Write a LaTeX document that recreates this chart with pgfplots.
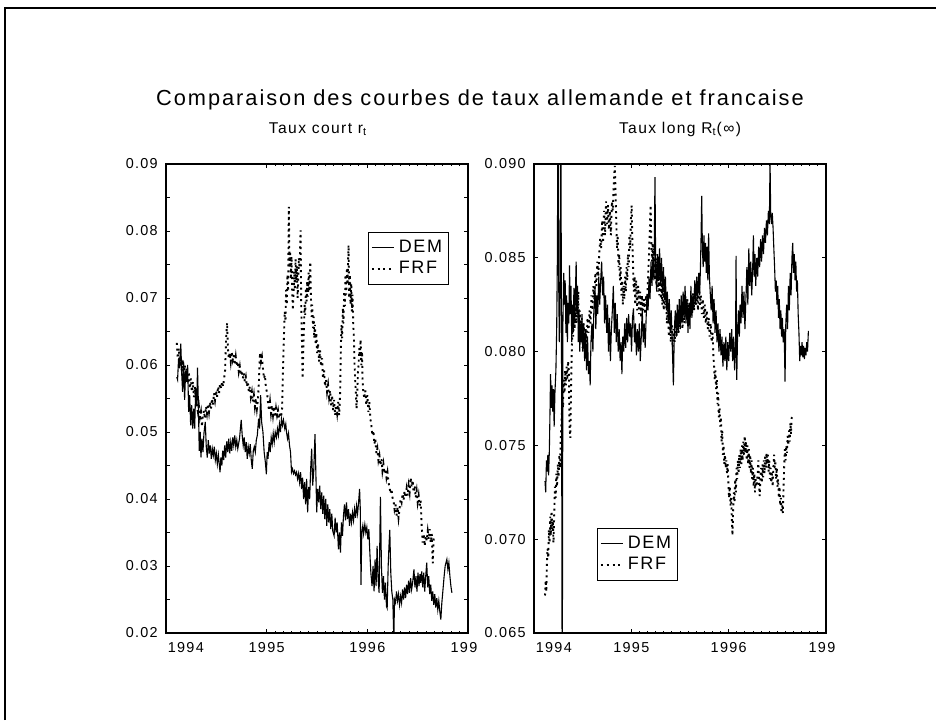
\documentclass[border=0pt]{standalone}
\usepackage{pgfplots}
\pgfplotsset{compat=1.18}
\usepackage{fontspec}
\setmainfont{Liberation Sans}[LetterSpace=9]

% weekly-ish samples of the short and long rates (years as decimals)
\pgfplotstableread{
x y
1994.107 0.0582
1994.115 0.0578
1994.125 0.0610
1994.135 0.0595
1994.147 0.0632
1994.155 0.0590
1994.165 0.0560
1994.175 0.0605
1994.185 0.0548
1994.195 0.0592
1994.205 0.0575
1994.215 0.0600
1994.225 0.0530
1994.235 0.0555
1994.245 0.0510
1994.255 0.0540
1994.265 0.0505
1994.275 0.0535
1994.285 0.0505
1994.295 0.0565
1994.305 0.0540
1994.313 0.0596
1994.322 0.0540
1994.330 0.0472
1994.340 0.0500
1994.347 0.0462
1994.357 0.0490
1994.367 0.0470
1994.377 0.0498
1994.390 0.0515
1994.400 0.0478
1994.410 0.0462
1994.420 0.0488
1994.430 0.0468
1994.440 0.0480
1994.450 0.0460
1994.460 0.0475
1994.470 0.0465
1994.480 0.0478
1994.490 0.0458
1994.500 0.0468
1994.510 0.0452
1994.520 0.0466
1994.537 0.0440
1994.545 0.0462
1994.555 0.0450
1994.563 0.0472
1994.573 0.0458
1994.583 0.0480
1994.593 0.0462
1994.603 0.0486
1994.613 0.0470
1994.623 0.0490
1994.633 0.0468
1994.643 0.0485
1994.653 0.0472
1994.663 0.0492
1994.673 0.0480
1994.683 0.0495
1994.693 0.0478
1994.703 0.0488
1994.713 0.0475
1994.730 0.0490
1994.747 0.0518
1994.757 0.0495
1994.767 0.0480
1994.777 0.0492
1994.787 0.0470
1994.797 0.0485
1994.807 0.0460
1994.817 0.0478
1994.827 0.0468
1994.837 0.0482
1994.847 0.0458
1994.857 0.0445
1994.867 0.0472
1994.877 0.0478
1994.887 0.0470
1994.897 0.0488
1994.907 0.0495
1994.920 0.0520
1994.930 0.0505
1994.940 0.0555
1994.950 0.0515
1994.963 0.0500
1994.975 0.0470
1994.987 0.0455
1994.997 0.0437
1995.005 0.0470
1995.013 0.0460
1995.025 0.0485
1995.035 0.0470
1995.045 0.0492
1995.055 0.0482
1995.065 0.0498
1995.075 0.0485
1995.085 0.0500
1995.097 0.0492
1995.107 0.0505
1995.117 0.0495
1995.127 0.0512
1995.137 0.0500
1995.147 0.0520
1995.157 0.0510
1995.167 0.0518
1995.180 0.0505
1995.190 0.0512
1995.197 0.0500
1995.207 0.0490
1995.217 0.0498
1995.227 0.0480
1995.237 0.0470
1995.247 0.0440
1995.257 0.0445
1995.267 0.0438
1995.277 0.0442
1995.287 0.0436
1995.297 0.0440
1995.307 0.0430
1995.317 0.0438
1995.327 0.0425
1995.337 0.0440
1995.347 0.0415
1995.357 0.0432
1995.367 0.0400
1995.377 0.0425
1995.387 0.0392
1995.397 0.0430
1995.407 0.0380
1995.417 0.0418
1995.427 0.0400
1995.437 0.0445
1995.447 0.0475
1995.457 0.0420
1995.467 0.0440
1995.480 0.0497
1995.490 0.0430
1995.497 0.0380
1995.507 0.0415
1995.517 0.0395
1995.527 0.0420
1995.537 0.0385
1995.547 0.0410
1995.557 0.0378
1995.567 0.0405
1995.577 0.0370
1995.587 0.0400
1995.597 0.0360
1995.607 0.0392
1995.617 0.0365
1995.627 0.0385
1995.637 0.0355
1995.647 0.0378
1995.657 0.0352
1995.670 0.0345
1995.680 0.0372
1995.690 0.0350
1995.700 0.0365
1995.713 0.0325
1995.723 0.0350
1995.733 0.0320
1995.743 0.0365
1995.753 0.0345
1995.763 0.0375
1995.773 0.0392
1995.783 0.0368
1995.793 0.0395
1995.803 0.0370
1995.813 0.0385
1995.823 0.0360
1995.833 0.0378
1995.843 0.0365
1995.853 0.0380
1995.863 0.0368
1995.873 0.0385
1995.883 0.0372
1995.893 0.0390
1995.903 0.0378
1995.913 0.0395
1995.923 0.0415
1995.930 0.0385
1995.937 0.0272
1995.945 0.0350
1995.955 0.0360
1995.963 0.0348
1995.975 0.0362
1995.985 0.0350
1995.995 0.0358
1996.005 0.0340
1996.015 0.0355
1996.025 0.0320
1996.035 0.0290
1996.047 0.0270
1996.057 0.0300
1996.067 0.0262
1996.077 0.0310
1996.087 0.0270
1996.097 0.0330
1996.107 0.0280
1996.117 0.0260
1996.130 0.0403
1996.140 0.0300
1996.150 0.0260
1996.160 0.0285
1996.170 0.0250
1996.180 0.0275
1996.190 0.0240
1996.197 0.0237
1996.207 0.0300
1996.215 0.0330
1996.223 0.0354
1996.233 0.0290
1996.243 0.0262
1996.253 0.0250
1996.263 0.0190
1996.270 0.0250
1996.280 0.0245
1996.290 0.0262
1996.300 0.0248
1996.310 0.0258
1996.320 0.0242
1996.330 0.0255
1996.340 0.0245
1996.350 0.0265
1996.360 0.0250
1996.370 0.0268
1996.380 0.0252
1996.390 0.0272
1996.400 0.0258
1996.410 0.0278
1996.420 0.0260
1996.430 0.0282
1996.440 0.0265
1996.450 0.0275
1996.463 0.0295
1996.473 0.0268
1996.483 0.0285
1996.493 0.0262
1996.503 0.0290
1996.513 0.0270
1996.523 0.0288
1996.530 0.0275
1996.540 0.0292
1996.550 0.0268
1996.560 0.0290
1996.570 0.0262
1996.580 0.0285
1996.590 0.0305
1996.600 0.0268
1996.610 0.0285
1996.620 0.0258
1996.630 0.0272
1996.640 0.0248
1996.650 0.0262
1996.660 0.0242
1996.670 0.0258
1996.680 0.0238
1996.690 0.0252
1996.700 0.0235
1996.710 0.0248
1996.720 0.0232
1996.730 0.0220
1996.740 0.0245
1996.750 0.0262
1996.763 0.0285
1996.773 0.0300
1996.790 0.0310
1996.800 0.0295
1996.810 0.0305
1996.820 0.0285
1996.830 0.0270
1996.840 0.0260
}\demshort

\pgfplotstableread{
x y
1994.107 0.0633
1994.117 0.0610
1994.127 0.0625
1994.137 0.0598
1994.147 0.0615
1994.157 0.0590
1994.167 0.0608
1994.177 0.0585
1994.187 0.0600
1994.197 0.0580
1994.207 0.0595
1994.217 0.0572
1994.227 0.0590
1994.237 0.0565
1994.247 0.0580
1994.257 0.0560
1994.267 0.0575
1994.277 0.0552
1994.287 0.0568
1994.297 0.0548
1994.307 0.0540
1994.317 0.0530
1994.327 0.0538
1994.337 0.0522
1994.347 0.0530
1994.357 0.0508
1994.367 0.0525
1994.377 0.0532
1994.387 0.0520
1994.397 0.0538
1994.407 0.0528
1994.417 0.0542
1994.427 0.0530
1994.437 0.0545
1994.447 0.0535
1994.457 0.0550
1994.467 0.0540
1994.477 0.0558
1994.487 0.0548
1994.497 0.0562
1994.507 0.0552
1994.517 0.0568
1994.527 0.0558
1994.537 0.0572
1994.547 0.0565
1994.557 0.0575
1994.567 0.0568
1994.577 0.0580
1994.587 0.0592
1994.597 0.0640
1994.607 0.0663
1994.615 0.0625
1994.623 0.0610
1994.633 0.0618
1994.643 0.0605
1994.653 0.0620
1994.663 0.0608
1994.673 0.0615
1994.683 0.0600
1994.693 0.0612
1994.703 0.0598
1994.713 0.0605
1994.723 0.0590
1994.733 0.0598
1994.743 0.0585
1994.753 0.0592
1994.763 0.0580
1994.773 0.0588
1994.783 0.0575
1994.793 0.0582
1994.803 0.0568
1994.813 0.0575
1994.823 0.0560
1994.833 0.0568
1994.843 0.0552
1994.853 0.0560
1994.863 0.0545
1994.873 0.0555
1994.883 0.0538
1994.893 0.0550
1994.903 0.0535
1994.913 0.0548
1994.923 0.0575
1994.933 0.0618
1994.943 0.0605
1994.953 0.0612
1994.963 0.0595
1994.973 0.0580
1994.983 0.0585
1994.993 0.0565
1995.003 0.0560
1995.013 0.0545
1995.023 0.0532
1995.033 0.0545
1995.043 0.0528
1995.053 0.0540
1995.063 0.0525
1995.073 0.0538
1995.083 0.0522
1995.093 0.0535
1995.103 0.0525
1995.113 0.0532
1995.123 0.0520
1995.133 0.0530
1995.143 0.0522
1995.153 0.0535
1995.160 0.0580
1995.167 0.0620
1995.173 0.0650
1995.180 0.0680
1995.187 0.0665
1995.193 0.0712
1995.200 0.0690
1995.207 0.0735
1995.213 0.0710
1995.220 0.0836
1995.227 0.0745
1995.233 0.0770
1995.240 0.0728
1995.247 0.0762
1995.253 0.0715
1995.260 0.0682
1995.267 0.0705
1995.273 0.0740
1995.280 0.0712
1995.287 0.0758
1995.293 0.0725
1995.300 0.0748
1995.307 0.0700
1995.313 0.0725
1995.320 0.0760
1995.327 0.0745
1995.337 0.0801
1995.343 0.0690
1995.350 0.0640
1995.357 0.0580
1995.363 0.0620
1995.370 0.0655
1995.377 0.0690
1995.383 0.0675
1995.390 0.0715
1995.397 0.0695
1995.403 0.0725
1995.410 0.0702
1995.417 0.0738
1995.423 0.0710
1995.433 0.0754
1995.440 0.0700
1995.447 0.0672
1995.453 0.0690
1995.460 0.0655
1995.467 0.0672
1995.473 0.0640
1995.480 0.0660
1995.487 0.0630
1995.493 0.0648
1995.500 0.0618
1995.510 0.0632
1995.520 0.0605
1995.530 0.0622
1995.540 0.0598
1995.550 0.0610
1995.560 0.0580
1995.570 0.0592
1995.580 0.0568
1995.590 0.0578
1995.600 0.0560
1995.610 0.0570
1995.620 0.0552
1995.630 0.0562
1995.640 0.0540
1995.650 0.0555
1995.660 0.0532
1995.670 0.0548
1995.680 0.0525
1995.690 0.0540
1995.700 0.0528
1995.710 0.0545
1995.720 0.0525
1995.730 0.0560
1995.737 0.0625
1995.743 0.0660
1995.750 0.0640
1995.757 0.0685
1995.763 0.0662
1995.770 0.0710
1995.777 0.0688
1995.783 0.0735
1995.790 0.0705
1995.797 0.0745
1995.803 0.0720
1995.813 0.0779
1995.820 0.0700
1995.827 0.0735
1995.833 0.0690
1995.840 0.0722
1995.847 0.0680
1995.853 0.0705
1995.860 0.0660
1995.867 0.0640
1995.873 0.0600
1995.880 0.0575
1995.887 0.0555
1995.893 0.0535
1995.900 0.0560
1995.907 0.0590
1995.913 0.0600
1995.920 0.0625
1995.927 0.0612
1995.933 0.0638
1995.940 0.0600
1995.947 0.0620
1995.953 0.0575
1995.960 0.0560
1995.970 0.0550
1995.980 0.0562
1995.990 0.0540
1996.000 0.0555
1996.010 0.0530
1996.020 0.0545
1996.030 0.0520
1996.040 0.0510
1996.050 0.0495
1996.060 0.0502
1996.070 0.0482
1996.080 0.0490
1996.090 0.0468
1996.100 0.0475
1996.110 0.0458
1996.120 0.0465
1996.130 0.0450
1996.140 0.0460
1996.150 0.0442
1996.160 0.0452
1996.170 0.0438
1996.180 0.0445
1996.190 0.0432
1996.200 0.0440
1996.210 0.0425
1996.220 0.0418
1996.230 0.0408
1996.240 0.0415
1996.250 0.0402
1996.260 0.0398
1996.270 0.0385
1996.280 0.0392
1996.290 0.0375
1996.300 0.0388
1996.310 0.0372
1996.320 0.0385
1996.330 0.0400
1996.340 0.0395
1996.350 0.0408
1996.360 0.0398
1996.370 0.0412
1996.380 0.0402
1996.390 0.0415
1996.400 0.0405
1996.410 0.0420
1996.420 0.0410
1996.430 0.0432
1996.440 0.0418
1996.450 0.0428
1996.460 0.0410
1996.470 0.0420
1996.480 0.0402
1996.490 0.0412
1996.500 0.0395
1996.510 0.0405
1996.520 0.0390
1996.530 0.0398
1996.540 0.0360
1996.550 0.0335
1996.560 0.0348
1996.570 0.0330
1996.580 0.0345
1996.590 0.0338
1996.600 0.0352
1996.610 0.0340
1996.620 0.0355
1996.630 0.0335
1996.640 0.0348
1996.650 0.0304
1996.660 0.0345
}\frfshort

\pgfplotstableread{
x y
1994.113 0.0731
1994.120 0.0725
1994.128 0.0742
1994.135 0.0736
1994.142 0.0745
1994.150 0.0734
1994.158 0.0748
1994.165 0.0770
1994.170 0.0788
1994.178 0.0770
1994.185 0.0782
1994.192 0.0768
1994.200 0.0780
1994.207 0.0760
1994.215 0.0778
1994.225 0.0790
1994.233 0.0812
1994.240 0.0850
1994.247 0.0935
1994.253 0.0840
1994.260 0.0805
1994.267 0.0830
1994.275 0.0935
1994.282 0.0820
1994.290 0.0600
1994.297 0.0815
1994.305 0.0842
1994.313 0.0825
1994.320 0.0838
1994.328 0.0810
1994.335 0.0830
1994.343 0.0805
1994.350 0.0826
1994.358 0.0815
1994.365 0.0846
1994.372 0.0820
1994.380 0.0835
1994.388 0.0805
1994.395 0.0825
1994.403 0.0812
1994.410 0.0834
1994.418 0.0815
1994.425 0.0830
1994.433 0.0848
1994.440 0.0820
1994.448 0.0835
1994.455 0.0805
1994.463 0.0822
1994.470 0.0800
1994.478 0.0815
1994.485 0.0805
1994.493 0.0820
1994.500 0.0800
1994.510 0.0815
1994.520 0.0795
1994.530 0.0812
1994.540 0.0790
1994.550 0.0808
1994.560 0.0788
1994.570 0.0795
1994.577 0.0782
1994.585 0.0805
1994.595 0.0815
1994.605 0.0800
1994.615 0.0822
1994.627 0.0835
1994.635 0.0812
1994.645 0.0830
1994.655 0.0820
1994.665 0.0840
1994.675 0.0825
1994.685 0.0838
1994.695 0.0848
1994.705 0.0830
1994.715 0.0840
1994.725 0.0815
1994.735 0.0830
1994.747 0.0810
1994.755 0.0825
1994.765 0.0800
1994.775 0.0818
1994.785 0.0795
1994.795 0.0812
1994.805 0.0822
1994.815 0.0835
1994.825 0.0810
1994.835 0.0826
1994.845 0.0805
1994.855 0.0820
1994.865 0.0800
1994.875 0.0812
1994.885 0.0795
1994.895 0.0805
1994.903 0.0788
1994.912 0.0808
1994.922 0.0800
1994.932 0.0815
1994.942 0.0802
1994.952 0.0818
1994.962 0.0805
1994.972 0.0820
1994.982 0.0808
1994.992 0.0815
1995.002 0.0800
1995.012 0.0818
1995.022 0.0823
1995.032 0.0805
1995.042 0.0815
1995.052 0.0798
1995.062 0.0812
1995.072 0.0800
1995.082 0.0815
1995.092 0.0795
1995.102 0.0808
1995.112 0.0823
1995.122 0.0805
1995.132 0.0815
1995.142 0.0802
1995.152 0.0818
1995.162 0.0830
1995.172 0.0822
1995.182 0.0840
1995.192 0.0828
1995.202 0.0848
1995.212 0.0835
1995.222 0.0850
1995.232 0.0838
1995.243 0.0893
1995.250 0.0845
1995.260 0.0832
1995.270 0.0852
1995.280 0.0838
1995.290 0.0855
1995.300 0.0835
1995.310 0.0850
1995.320 0.0832
1995.330 0.0845
1995.340 0.0828
1995.350 0.0840
1995.360 0.0822
1995.370 0.0832
1995.380 0.0815
1995.390 0.0828
1995.400 0.0810
1995.410 0.0822
1995.420 0.0805
1995.432 0.0782
1995.442 0.0812
1995.452 0.0822
1995.462 0.0808
1995.472 0.0825
1995.482 0.0810
1995.492 0.0828
1995.502 0.0812
1995.512 0.0830
1995.522 0.0815
1995.532 0.0832
1995.542 0.0818
1995.552 0.0835
1995.562 0.0815
1995.572 0.0828
1995.582 0.0810
1995.592 0.0826
1995.602 0.0812
1995.612 0.0835
1995.622 0.0818
1995.632 0.0830
1995.642 0.0822
1995.652 0.0838
1995.662 0.0825
1995.672 0.0840
1995.682 0.0828
1995.692 0.0842
1995.702 0.0830
1995.710 0.0845
1995.716 0.0860
1995.723 0.0883
1995.730 0.0855
1995.738 0.0845
1995.746 0.0862
1995.754 0.0848
1995.762 0.0858
1995.770 0.0842
1995.778 0.0856
1995.786 0.0838
1995.794 0.0863
1995.802 0.0840
1995.810 0.0832
1995.820 0.0822
1995.830 0.0835
1995.840 0.0815
1995.850 0.0828
1995.860 0.0810
1995.870 0.0822
1995.880 0.0805
1995.890 0.0815
1995.900 0.0800
1995.911 0.0812
1995.921 0.0798
1995.931 0.0808
1995.941 0.0792
1995.951 0.0805
1995.961 0.0795
1995.971 0.0808
1995.981 0.0790
1995.991 0.0805
1996.001 0.0795
1996.011 0.0810
1996.021 0.0800
1996.031 0.0812
1996.041 0.0795
1996.051 0.0808
1996.061 0.0790
1996.070 0.0800
1996.076 0.0851
1996.083 0.0785
1996.090 0.0805
1996.100 0.0822
1996.110 0.0808
1996.117 0.0825
1996.127 0.0815
1996.137 0.0835
1996.147 0.0818
1996.157 0.0832
1996.167 0.0812
1996.177 0.0828
1996.187 0.0845
1996.197 0.0825
1996.207 0.0855
1996.217 0.0835
1996.227 0.0848
1996.237 0.0830
1996.247 0.0845
1996.254 0.0862
1996.262 0.0840
1996.270 0.0852
1996.278 0.0835
1996.288 0.0850
1996.298 0.0840
1996.308 0.0856
1996.318 0.0845
1996.328 0.0860
1996.338 0.0848
1996.348 0.0862
1996.358 0.0852
1996.368 0.0866
1996.378 0.0858
1996.388 0.0870
1996.398 0.0862
1996.408 0.0875
1996.418 0.0868
1996.425 0.0902
1996.432 0.0872
1996.440 0.0868
1996.448 0.0874
1996.456 0.0866
1996.464 0.0855
1996.472 0.0845
1996.480 0.0832
1996.488 0.0838
1996.496 0.0825
1996.504 0.0835
1996.512 0.0818
1996.520 0.0828
1996.528 0.0812
1996.536 0.0822
1996.544 0.0808
1996.552 0.0818
1996.560 0.0805
1996.570 0.0812
1996.579 0.0784
1996.587 0.0815
1996.596 0.0825
1996.605 0.0812
1996.614 0.0835
1996.623 0.0822
1996.632 0.0842
1996.641 0.0830
1996.650 0.0850
1996.658 0.0858
1996.666 0.0842
1996.674 0.0852
1996.682 0.0838
1996.690 0.0848
1996.698 0.0832
1996.706 0.0838
1996.714 0.0820
1996.722 0.0810
1996.730 0.0795
1996.738 0.0803
1996.746 0.0798
1996.754 0.0805
1996.762 0.0797
1996.770 0.0803
1996.778 0.0796
1996.786 0.0802
1996.794 0.0798
1996.802 0.0805
1996.810 0.0800
1996.819 0.0811
}\demlong

\pgfplotstableread{
x y
1994.113 0.0670
1994.120 0.0678
1994.127 0.0672
1994.133 0.0688
1994.140 0.0695
1994.147 0.0690
1994.153 0.0705
1994.160 0.0698
1994.167 0.0712
1994.173 0.0702
1994.180 0.0715
1994.187 0.0705
1994.193 0.0710
1994.200 0.0698
1994.207 0.0712
1994.215 0.0728
1994.222 0.0722
1994.230 0.0735
1994.237 0.0728
1994.245 0.0740
1994.252 0.0733
1994.260 0.0745
1994.268 0.0738
1994.275 0.0755
1994.283 0.0762
1994.290 0.0775
1994.298 0.0770
1994.305 0.0785
1994.313 0.0778
1994.320 0.0790
1994.328 0.0782
1994.335 0.0792
1994.343 0.0785
1994.350 0.0795
1994.358 0.0790
1994.365 0.0760
1994.373 0.0754
1994.380 0.0780
1994.388 0.0800
1994.395 0.0815
1994.403 0.0808
1994.410 0.0825
1994.418 0.0812
1994.425 0.0830
1994.433 0.0815
1994.440 0.0835
1994.448 0.0818
1994.455 0.0832
1994.463 0.0808
1994.470 0.0822
1994.480 0.0805
1994.490 0.0818
1994.500 0.0802
1994.510 0.0815
1994.520 0.0800
1994.530 0.0812
1994.540 0.0805
1994.550 0.0818
1994.560 0.0810
1994.570 0.0822
1994.580 0.0815
1994.590 0.0830
1994.600 0.0822
1994.610 0.0835
1994.620 0.0828
1994.630 0.0842
1994.640 0.0835
1994.650 0.0848
1994.660 0.0840
1994.670 0.0852
1994.680 0.0860
1994.690 0.0855
1994.700 0.0870
1994.710 0.0858
1994.720 0.0875
1994.730 0.0862
1994.740 0.0880
1994.750 0.0868
1994.760 0.0878
1994.770 0.0865
1994.780 0.0875
1994.790 0.0862
1994.800 0.0880
1994.810 0.0875
1994.820 0.0890
1994.830 0.0899
1994.838 0.0885
1994.845 0.0870
1994.853 0.0855
1994.860 0.0862
1994.868 0.0845
1994.875 0.0852
1994.883 0.0838
1994.890 0.0845
1994.898 0.0830
1994.905 0.0838
1994.913 0.0825
1994.920 0.0835
1994.928 0.0828
1994.935 0.0840
1994.943 0.0832
1994.950 0.0845
1994.958 0.0838
1994.965 0.0852
1994.973 0.0845
1994.980 0.0862
1994.988 0.0855
1994.995 0.0870
1995.003 0.0878
1995.010 0.0860
1995.018 0.0845
1995.025 0.0832
1995.033 0.0840
1995.040 0.0825
1995.050 0.0838
1995.060 0.0822
1995.070 0.0835
1995.080 0.0820
1995.090 0.0832
1995.100 0.0818
1995.110 0.0830
1995.120 0.0822
1995.130 0.0828
1995.140 0.0820
1995.150 0.0830
1995.160 0.0825
1995.170 0.0838
1995.180 0.0850
1995.190 0.0865
1995.198 0.0878
1995.205 0.0860
1995.213 0.0848
1995.220 0.0858
1995.228 0.0840
1995.235 0.0855
1995.243 0.0838
1995.250 0.0852
1995.258 0.0835
1995.265 0.0848
1995.273 0.0832
1995.280 0.0845
1995.288 0.0830
1995.295 0.0842
1995.303 0.0828
1995.310 0.0840
1995.318 0.0825
1995.325 0.0835
1995.333 0.0822
1995.340 0.0838
1995.348 0.0825
1995.355 0.0832
1995.365 0.0815
1995.375 0.0825
1995.385 0.0808
1995.395 0.0820
1995.405 0.0805
1995.415 0.0815
1995.425 0.0802
1995.435 0.0812
1995.445 0.0805
1995.455 0.0818
1995.465 0.0808
1995.475 0.0820
1995.485 0.0810
1995.495 0.0822
1995.505 0.0815
1995.515 0.0825
1995.525 0.0812
1995.535 0.0828
1995.545 0.0815
1995.555 0.0830
1995.565 0.0818
1995.575 0.0828
1995.585 0.0815
1995.595 0.0825
1995.605 0.0818
1995.615 0.0830
1995.625 0.0820
1995.635 0.0832
1995.645 0.0822
1995.655 0.0835
1995.665 0.0825
1995.675 0.0832
1995.685 0.0822
1995.695 0.0835
1995.705 0.0825
1995.715 0.0830
1995.725 0.0820
1995.735 0.0828
1995.745 0.0818
1995.755 0.0825
1995.765 0.0815
1995.775 0.0822
1995.785 0.0812
1995.795 0.0818
1995.805 0.0808
1995.815 0.0815
1995.825 0.0805
1995.835 0.0810
1995.843 0.0798
1995.850 0.0792
1995.857 0.0785
1995.864 0.0790
1995.871 0.0780
1995.878 0.0785
1995.885 0.0772
1995.892 0.0778
1995.899 0.0765
1995.906 0.0770
1995.913 0.0760
1995.920 0.0765
1995.927 0.0752
1995.934 0.0758
1995.941 0.0745
1995.948 0.0750
1995.955 0.0740
1995.962 0.0745
1995.969 0.0738
1995.976 0.0742
1995.983 0.0735
1995.990 0.0740
1995.997 0.0730
1996.004 0.0722
1996.011 0.0728
1996.018 0.0718
1996.025 0.0722
1996.032 0.0712
1996.039 0.0702
1996.046 0.0715
1996.053 0.0725
1996.060 0.0720
1996.067 0.0732
1996.074 0.0725
1996.081 0.0738
1996.088 0.0732
1996.095 0.0742
1996.102 0.0735
1996.109 0.0745
1996.116 0.0738
1996.123 0.0748
1996.130 0.0740
1996.137 0.0750
1996.144 0.0742
1996.151 0.0752
1996.158 0.0745
1996.165 0.0755
1996.172 0.0746
1996.179 0.0752
1996.186 0.0742
1996.193 0.0750
1996.200 0.0740
1996.207 0.0748
1996.214 0.0738
1996.221 0.0745
1996.228 0.0735
1996.235 0.0742
1996.242 0.0732
1996.249 0.0738
1996.256 0.0728
1996.263 0.0735
1996.270 0.0725
1996.277 0.0732
1996.284 0.0728
1996.291 0.0730
1996.298 0.0735
1996.305 0.0742
1996.312 0.0730
1996.319 0.0723
1996.326 0.0732
1996.333 0.0738
1996.340 0.0730
1996.347 0.0740
1996.354 0.0733
1996.361 0.0742
1996.368 0.0735
1996.375 0.0745
1996.382 0.0738
1996.389 0.0746
1996.396 0.0740
1996.403 0.0745
1996.410 0.0736
1996.417 0.0742
1996.424 0.0732
1996.431 0.0738
1996.438 0.0730
1996.445 0.0735
1996.452 0.0728
1996.459 0.0738
1996.466 0.0745
1996.473 0.0738
1996.480 0.0742
1996.487 0.0732
1996.494 0.0738
1996.501 0.0728
1996.508 0.0732
1996.515 0.0722
1996.522 0.0728
1996.529 0.0718
1996.536 0.0722
1996.543 0.0714
1996.550 0.0718
1996.557 0.0714
1996.564 0.0728
1996.571 0.0740
1996.578 0.0748
1996.585 0.0742
1996.592 0.0750
1996.599 0.0746
1996.606 0.0755
1996.613 0.0750
1996.620 0.0758
1996.627 0.0752
1996.634 0.0762
1996.641 0.0756
1996.648 0.0765
1996.655 0.0767
}\frflong

\pgfplotsset{
  ratepanel/.style={
    scale only axis,
    height=234.5pt,
    anchor=south west,
    xmin=1994, xmax=1997,
    scaled y ticks=false,
    scaled x ticks=false,
    axis line style={line width=1.2pt},
    every tick/.style={black, line width=0.45pt},
    major tick length=2.2pt,
    minor tick length=1.2pt,
    xtick={1995,1996,1997},
    xticklabels={1995,1996,{199\phantom{7}}},
    minor x tick num=11,
    extra x ticks={1994},
    extra x tick labels={1994},
    extra x tick style={xticklabel style={anchor=north west, xshift=-2.6pt}},
    xticklabel style={font=\fontsize{7.2}{8}\selectfont, yshift=-1.2pt},
    yticklabel style={font=\fontsize{7.2}{8}\selectfont, xshift=-0.6pt},
    legend cell align=left,
    legend image code/.code={\draw[##1] (0pt,0pt) -- (11pt,0pt);},
    legend style={draw=black, line width=0.5pt, anchor=north west,
      font=\fontsize{9}{10}\selectfont, inner xsep=1.2pt, inner ysep=1.8pt,
      row sep=-1.2pt},
  },
  demline/.style={black, line width=0.55pt},
  frfline/.style={black, line width=0.95pt, dash pattern=on 1pt off 1.9pt},
}

\begin{document}
\begin{tikzpicture}
\useasboundingbox (0,0) rectangle (468pt,360pt);
% page frame
\draw[line width=1.1pt] (2.5pt,0pt) -- (2.5pt,356pt) -- (468pt,356pt);

\node[font=\fontsize{10.9}{12}\selectfont] at (240pt,310pt)
  {Comparaison des courbes de taux allemande et francaise};
\node[font=\fontsize{7.8}{9}\selectfont] at (159pt,295.5pt)
  {Taux court r\textsubscript{t}};
\node[font=\fontsize{7.8}{9}\selectfont] at (340pt,295.5pt)
  {Taux long R\textsubscript{t}(∞)};

\begin{axis}[ratepanel, at={(83pt,43.5pt)}, width=151pt,
    ymin=0.02, ymax=0.09,
    ytick={0.02,0.025,...,0.0901},
    yticklabels={0.02,,0.03,,0.04,,0.05,,0.06,,0.07,,0.08,,0.09},
    legend style={at={(0.669,0.855)}}]
  \addplot[demline] table {\demshort};
  \addplot[frfline] table {\frfshort};
  \legend{DEM,FRF}
\end{axis}

\begin{axis}[ratepanel, at={(267pt,43.5pt)}, width=146pt,
    ymin=0.065, ymax=0.090,
    ytick={0.065,0.070,0.075,0.080,0.085,0.090},
    yticklabels={0.065,0.070,0.075,0.080,0.085,0.090},
    legend style={at={(0.216,0.224)}}]
  \addplot[demline] table {\demlong};
  \addplot[frfline] table {\frflong};
  \legend{DEM,FRF}
\end{axis}
\end{tikzpicture}
\end{document}
